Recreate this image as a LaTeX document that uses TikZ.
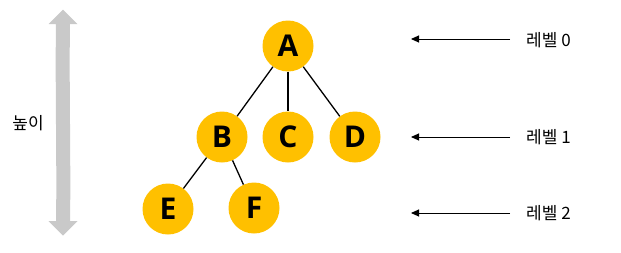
\documentclass[tikz,border=0pt]{standalone}
\usepackage{fontspec}
\usetikzlibrary{arrows.meta}
\newfontfamily\kr{Noto Sans CJK KR}
\newfontfamily\letterfont{Open Sans}
\definecolor{gold}{HTML}{FFC000}
\definecolor{arrowgray}{HTML}{C9C9C9}
\begin{document}
\begin{tikzpicture}[x=1pt,y=-1pt,
  tnode/.style={circle,fill=gold,minimum size=51pt,inner sep=0pt,
    font=\letterfont\bfseries\fontsize{30}{30}\selectfont,text=black},
  edge/.style={line width=1.3pt,black},
  lvlarrow/.style={line width=0.9pt,black,-{Triangle[length=8pt,width=7pt]}},
  lbl/.style={font=\kr\fontsize{17}{17}\selectfont,inner sep=0pt}]
\useasboundingbox (0,0) rectangle (621,252);
% height arrow
\fill[arrowgray] (63,9.5) -- (77.5,24) -- (70,24)
  .. controls (69,80) and (71,170) .. (70,221) -- (77.5,221) -- (63,235.5)
  -- (48.5,221) -- (56,221) .. controls (57,170) and (55,80) .. (56,24)
  -- (48.5,24) -- cycle;
\node[lbl] (h) at (28,123) {높이};
% tree
\node[tnode] (A) at (288,46) {A};
\node[tnode] (B) at (222,137) {B};
\node[tnode] (C) at (288,137) {C};
\node[tnode] (D) at (355,137) {D};
\node[tnode] (E) at (168,209) {E};
\node[tnode] (F) at (254,208) {F};
\draw[edge] (A) -- (B);
\draw[edge] (A) -- (C);
\draw[edge] (A) -- (D);
\draw[edge] (B) -- (E);
\draw[edge] (B) -- (F);
% levels
\node[lbl,anchor=west] (l0) at (526,40) {레벨 0};
\node[lbl,anchor=west] (l1) at (526,137) {레벨 1};
\node[lbl,anchor=west] (l2) at (526,213) {레벨 2};
\coordinate (t0) at (411,39);
\coordinate (t1) at (411,137);
\coordinate (t2) at (411,213);
\draw[lvlarrow] ([xshift=-16pt]l0.west |- t0) -- (t0);
\draw[lvlarrow] ([xshift=-16pt]l1.west |- t1) -- (t1);
\draw[lvlarrow] ([xshift=-16pt]l2.west |- t2) -- (t2);
\end{tikzpicture}
\end{document}
